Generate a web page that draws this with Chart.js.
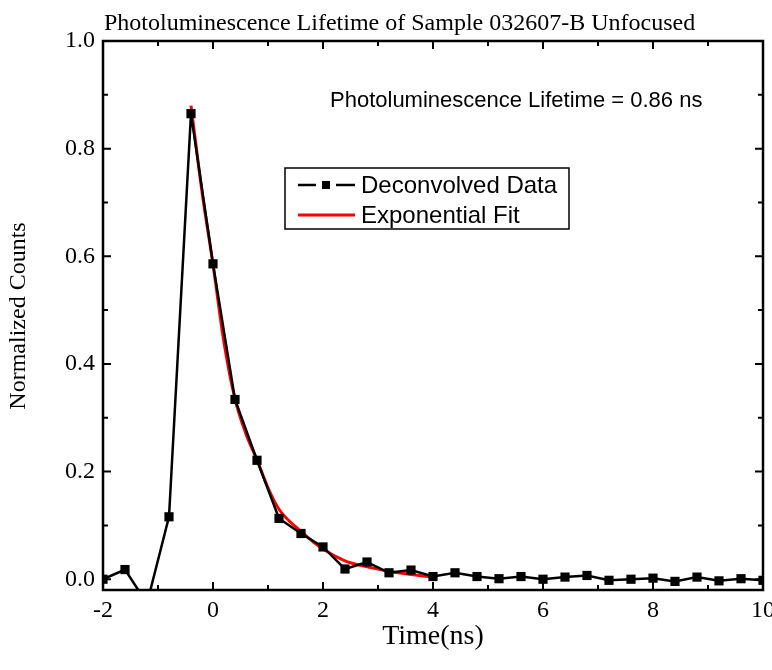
<!DOCTYPE html>
<html>
<head>
<meta charset="utf-8">
<script src="https://cdn.jsdelivr.net/npm/chart.js@4"></script>
<style>
    body { margin: 0; background: #fff; }
    #wrap { width: 772px; height: 670px; }
</style>
</head>
<body>
<div id="wrap"><canvas id="plChart" width="772" height="670"></canvas></div>
<script>
// Deconvolved data, one point every 0.4 ns
var timeNs = [-2, -1.6, -1.2, -0.8, -0.4, 0, 0.4, 0.8, 1.2, 1.6, 2, 2.4, 2.8, 3.2, 3.6, 4,
    4.4, 4.8, 5.2, 5.6, 6, 6.4, 6.8, 7.2, 7.6, 8, 8.4, 8.8, 9.2, 9.6, 10];
var counts = [0.0, 0.018, -0.045, 0.116, 0.865, 0.586, 0.334, 0.221, 0.113, 0.085, 0.060, 0.019, 0.032, 0.012, 0.017, 0.005,
    0.012, 0.005, 0.001, 0.005, 0.0, 0.004, 0.007, -0.002, 0.0, 0.002, -0.004, 0.004, -0.003, 0.001, -0.002];

// Exponential fit curve
var fitTime = [-0.4, -0.2, 0, 0.2, 0.4, 0.6, 0.8, 1.0, 1.2, 1.6, 2.0, 2.4, 2.8, 3.2, 3.6, 4.0];
var fitCounts = [0.88, 0.72, 0.585, 0.44, 0.335, 0.27, 0.222, 0.17, 0.13, 0.089, 0.056, 0.034, 0.023, 0.015, 0.009, 0.004];

var xTicks = [-2, 0, 2, 4, 6, 8, 10];
var xMinorTicks = [-1, 1, 3, 5, 7, 9];
var yTicks = [0, 0.2, 0.4, 0.6, 0.8, 1.0];
var yMinorTicks = [0.1, 0.3, 0.5, 0.7, 0.9];

var titleText = 'Photoluminescence Lifetime of Sample 032607-B Unfocused';
var noteText = 'Photoluminescence Lifetime = 0.86 ns';
var xTitle = 'Time(ns)';
var yTitle = 'Normalized Counts';

var serif = '"Liberation Serif", "Times New Roman", serif';
var sans = '"Liberation Sans", Arial, sans-serif';

function toPoints(xs, ys) {
    var pts = [];
    for (var i = 0; i < xs.length; i++) {
        pts.push({ x: xs[i], y: ys[i] });
    }
    return pts;
}

// frame, inward ticks, texts and the boxed legend
var decorPlugin = {
    id: 'decor',
    afterDraw: function (chart) {
        var ctx = chart.ctx;
        var area = chart.chartArea;
        var xs = chart.scales.x;
        var ys = chart.scales.y;
        ctx.save();

        ctx.strokeStyle = '#000';
        ctx.lineWidth = 2.5;
        ctx.strokeRect(area.left, area.top, area.right - area.left, area.bottom - area.top);

        ctx.lineWidth = 2;
        function tickX(list, len) {
            list.forEach(function (v) {
                var px = xs.getPixelForValue(v);
                ctx.beginPath();
                ctx.moveTo(px, area.bottom);
                ctx.lineTo(px, area.bottom - len);
                ctx.moveTo(px, area.top);
                ctx.lineTo(px, area.top + len);
                ctx.stroke();
            });
        }
        function tickY(list, len) {
            list.forEach(function (v) {
                var py = ys.getPixelForValue(v);
                ctx.beginPath();
                ctx.moveTo(area.left, py);
                ctx.lineTo(area.left + len, py);
                ctx.moveTo(area.right, py);
                ctx.lineTo(area.right - len, py);
                ctx.stroke();
            });
        }
        tickX(xTicks, 8);
        tickX(xMinorTicks, 5);
        tickY(yTicks, 8);
        tickY(yMinorTicks, 5);

        ctx.fillStyle = '#000';
        ctx.font = '24px ' + serif;
        ctx.textAlign = 'left';
        ctx.textBaseline = 'alphabetic';
        ctx.fillText(titleText, 104, 30);

        ctx.font = '28px ' + serif;
        ctx.textAlign = 'center';
        ctx.fillText(xTitle, (area.left + area.right) / 2, 644);

        ctx.save();
        ctx.translate(19, 316);
        ctx.rotate(-Math.PI / 2);
        ctx.font = '24px ' + serif;
        ctx.textBaseline = 'middle';
        ctx.fillText(yTitle, 0, 0);
        ctx.restore();

        ctx.font = '22px ' + sans;
        ctx.textAlign = 'left';
        ctx.textBaseline = 'middle';
        ctx.fillText(noteText, 330, 101);

        // legend box
        ctx.font = '24px ' + sans;
        ctx.lineWidth = 1.5;
        ctx.strokeRect(285, 168, 284, 61);
        var rows = [185, 215];
        chart.data.datasets.forEach(function (ds, i) {
            var y = rows[i];
            ctx.strokeStyle = ds.borderColor;
            ctx.lineWidth = ds.borderWidth;
            ctx.beginPath();
            ctx.moveTo(298, y);
            ctx.lineTo(355, y);
            ctx.stroke();
            if (ds.pointRadius > 0) {
                ctx.fillStyle = '#fff';
                ctx.fillRect(316, y - 5, 20, 10);
                ctx.fillStyle = ds.pointBackgroundColor;
                ctx.fillRect(322, y - 4, 8, 8);
            }
            ctx.fillStyle = '#000';
            ctx.fillText(ds.label, 361, y + 1);
        });

        ctx.restore();
    }
};

var ctx = document.getElementById('plChart').getContext('2d');
new Chart(ctx, {
    type: 'line',
    data: {
        datasets: [{
            label: 'Deconvolved Data',
            data: toPoints(timeNs, counts),
            borderColor: '#000',
            borderWidth: 2.5,
            pointStyle: 'rect',
            pointRadius: 6.5,
            pointBackgroundColor: '#000',
            pointBorderWidth: 0,
            tension: 0
        }, {
            label: 'Exponential Fit',
            data: toPoints(fitTime, fitCounts),
            borderColor: '#ff0000',
            borderWidth: 3,
            pointRadius: 0,
            cubicInterpolationMode: 'monotone'
        }]
    },
    options: {
        responsive: false,
        animation: false,
        layout: { padding: { top: 41, right: 9, left: 0, bottom: 0 } },
        plugins: {
            legend: { display: false },
            tooltip: { enabled: false }
        },
        scales: {
            x: {
                type: 'linear',
                min: -2,
                max: 10,
                afterBuildTicks: function (scale) {
                    scale.ticks = xTicks.map(function (v) { return { value: v }; });
                },
                afterFit: function (scale) {
                    scale.height = 80;
                    scale.paddingLeft = 0;
                    scale.paddingRight = 0;
                },
                grid: { display: false, drawTicks: false },
                border: { display: false },
                ticks: {
                    color: '#000',
                    padding: 6,
                    maxRotation: 0,
                    font: { family: serif, size: 24 }
                }
            },
            y: {
                type: 'linear',
                min: -0.02,
                max: 1.0,
                afterBuildTicks: function (scale) {
                    scale.ticks = yTicks.map(function (v) { return { value: v }; });
                },
                afterFit: function (scale) {
                    scale.width = 103;
                    scale.paddingTop = 0;
                    scale.paddingBottom = 0;
                },
                grid: { display: false, drawTicks: false },
                border: { display: false },
                ticks: {
                    color: '#000',
                    padding: 8,
                    font: { family: serif, size: 24 },
                    callback: function (v) { return v.toFixed(1); }
                }
            }
        }
    },
    plugins: [decorPlugin]
});
</script>
</body>
</html>
